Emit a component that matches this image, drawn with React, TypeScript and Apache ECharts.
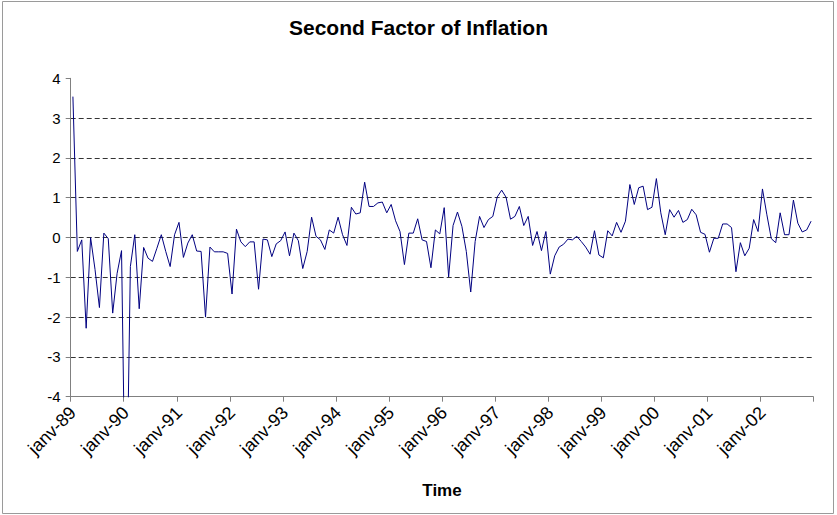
import React, { useEffect, useRef } from "react";
import * as echarts from "echarts";

const years: string[] = ["89", "90", "91", "92", "93", "94", "95", "96", "97", "98", "99", "00", "01", "02"];
const monthNames: string[] = ["janv", "févr", "mars", "avr", "mai", "juin", "juil", "août", "sept", "oct", "nov", "déc"];
const categories: string[] = years.flatMap((y) => monthNames.map((m) => `${m}-${y}`));

const yTicks: number[] = [-4, -3, -2, -1, 0, 1, 2, 3, 4];

const secondFactor: number[] = [
  // 1989
  3.54, -0.35, -0.06, -2.28, 0.0, -0.8, -1.76, 0.11, -0.03, -1.9, -0.9, -0.33,
  // 1990
  -8.0, -0.73, 0.07, -1.79, -0.25, -0.52, -0.6, -0.27, 0.07, -0.35, -0.73, 0.07,
  // 1991
  0.38, -0.5, -0.14, 0.07, -0.34, -0.35, -2.0, -0.24, -0.36, -0.36, -0.36, -0.4,
  // 1992
  -1.42, 0.21, -0.11, -0.23, -0.11, -0.11, -1.3, -0.04, -0.06, -0.48, -0.16, -0.08,
  // 1993
  0.14, -0.46, 0.11, -0.08, -0.78, -0.35, 0.51, 0.03, -0.06, -0.3, 0.19, 0.11,
  // 1994
  0.51, 0.07, -0.2, 0.76, 0.59, 0.62, 1.39, 0.78, 0.78, 0.87, 0.89, 0.62,
  // 1995
  0.83, 0.42, 0.15, -0.68, 0.11, 0.11, 0.47, -0.06, -0.1, -0.76, 0.19, 0.09,
  // 1996
  0.75, -0.99, 0.3, 0.64, 0.28, -0.35, -1.37, -0.1, 0.53, 0.25, 0.45, 0.53,
  // 1997
  1.02, 1.19, 1.01, 0.46, 0.53, 0.78, 0.3, 0.53, -0.2, 0.15, -0.33, 0.15,
  // 1998
  -0.92, -0.46, -0.24, -0.17, -0.04, -0.06, 0.03, -0.1, -0.24, -0.42, 0.17, -0.44,
  // 1999
  -0.51, 0.17, 0.04, 0.38, 0.13, 0.41, 1.33, 0.83, 1.25, 1.29, 0.7, 0.76,
  // 2000
  1.48, 0.62, 0.07, 0.7, 0.51, 0.68, 0.38, 0.45, 0.71, 0.57, 0.13, 0.08,
  // 2001
  -0.37, -0.02, -0.02, 0.34, 0.34, 0.25, -0.86, -0.13, -0.46, -0.27, 0.45, 0.15,
  // 2002
  1.22, 0.57, -0.03, -0.13, 0.62, 0.07, 0.07, 0.94, 0.36, 0.14, 0.19, 0.41,
];

const FONT = "'Liberation Sans', Arial, sans-serif";

export default function App() {
  const ref = useRef<HTMLDivElement>(null);

  useEffect(() => {
    if (!ref.current) return;
    const chart = echarts.init(ref.current, null, { renderer: "svg" });
    chart.setOption({
      animation: false,
      backgroundColor: "#ffffff",
      title: {
        text: "Second Factor of Inflation",
        left: "center",
        top: 12,
        textStyle: { fontFamily: FONT, fontSize: 21, fontWeight: "bold", color: "#000" },
      },
      graphic: [
        {
          type: "rect",
          silent: true,
          shape: { x: 2.5, y: 1.5, width: 831, height: 512 },
          style: { fill: "none", stroke: "#9a9a9a", lineWidth: 1 },
        },
        {
          type: "text",
          x: 442,
          y: 490,
          style: {
            text: "Time",
            font: `bold 17px ${FONT}`,
            fill: "#000",
            textAlign: "center",
            textVerticalAlign: "middle",
          },
        },
      ],
      grid: { left: 70.7, right: 23.7, top: 78.3, bottom: 118.3, containLabel: false },
      xAxis: {
        type: "category",
        data: categories,
        boundaryGap: true,
        axisLine: { show: true, onZero: false, lineStyle: { color: "#808080", width: 1 } },
        axisTick: { show: true, interval: 11, length: 5, lineStyle: { color: "#808080" } },
        axisLabel: {
          interval: 11,
          rotate: 45,
          margin: 13,
          fontFamily: FONT,
          fontSize: 18,
          color: "#000",
        },
        splitLine: { show: false },
      },
      yAxis: {
        type: "value",
        min: yTicks[0],
        max: yTicks[yTicks.length - 1],
        interval: 1,
        axisLine: { show: true, lineStyle: { color: "#808080", width: 1 } },
        axisTick: { show: true, length: 5, lineStyle: { color: "#808080" } },
        axisLabel: { margin: 10, fontFamily: FONT, fontSize: 15, color: "#000" },
        splitLine: {
          show: true,
          showMaxLine: false,
          showMinLine: false,
          lineStyle: { color: "#333", type: [5, 3], width: 1 },
        },
      },
      series: [
        {
          type: "line",
          data: secondFactor,
          symbol: "none",
          clip: true,
          lineStyle: { color: "#000080", width: 1 },
        },
      ],
    });
    return () => chart.dispose();
  }, []);

  return (
    <div
      ref={ref}
      style={{ position: "fixed", left: 0, top: 0, width: 837, height: 515, background: "#fff" }}
    />
  );
}
